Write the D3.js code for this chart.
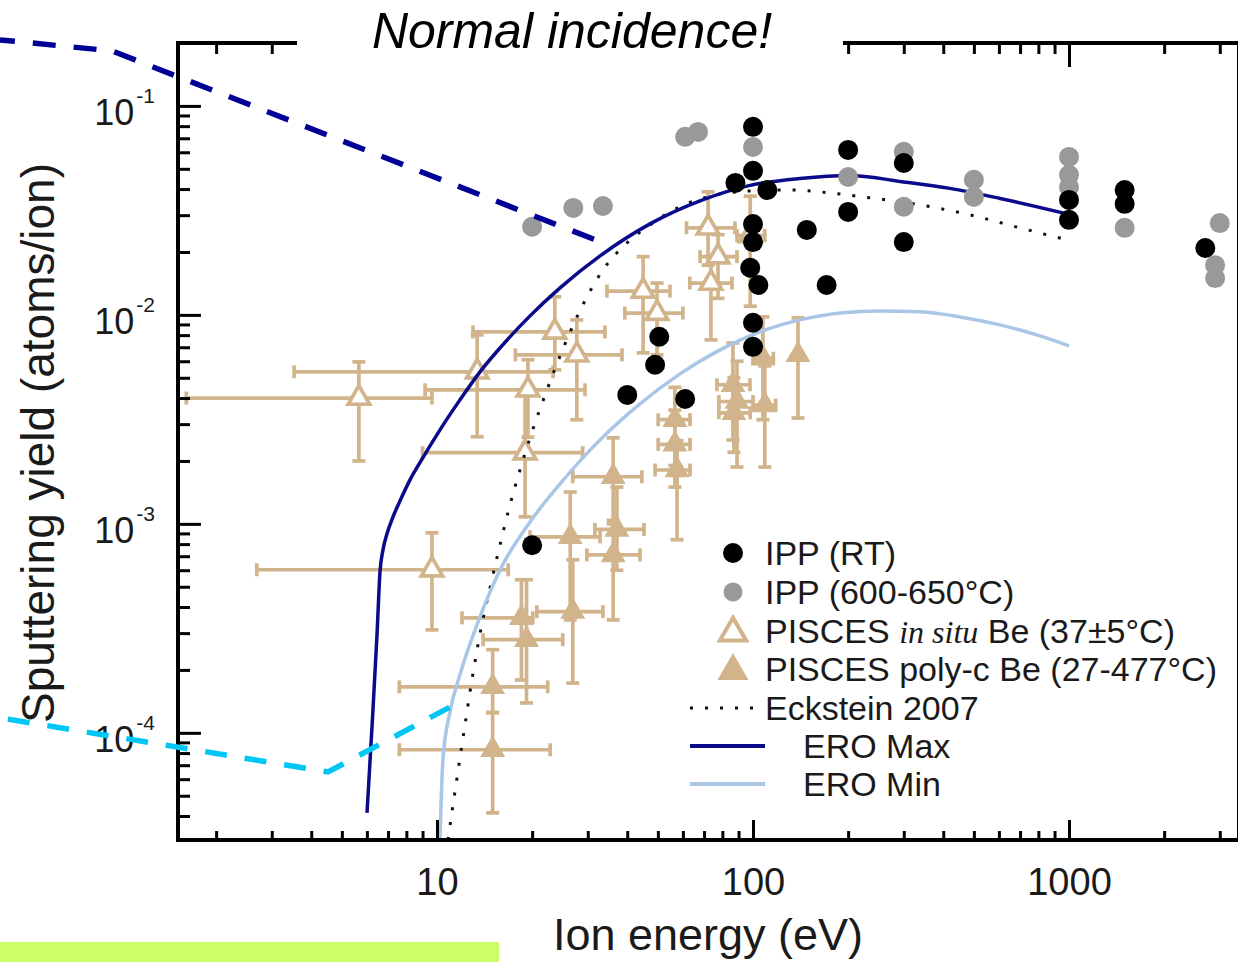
<!DOCTYPE html>
<html>
<head>
<meta charset="utf-8">
<title>Be sputtering yield vs ion energy</title>
<script src="https://cdn.jsdelivr.net/npm/d3@7/dist/d3.min.js"></script>
<style>
  html, body { margin: 0; padding: 0; background: #fff; }
  svg { display: block; }
  text { font-family: "Liberation Sans", Arial, Helvetica, sans-serif; }
</style>
</head>
<body>
<svg id="chart" width="1238" height="962"></svg>
<script>
// ---------------- data ----------------
const xMajorTicks = [10, 100, 1000];
const xTickLabels = ["10", "100", "1000"];
const yMajorTicks = [1e-1, 1e-2, 1e-3, 1e-4];
const yTickExponents = ["-1", "-2", "-3", "-4"];

// ERO simulation, upper bound
const eroMaxEnergy = [6.005, 6.228, 6.459, 6.601, 6.747, 6.946, 7.257, 7.637, 8.214, 8.899, 10.22, 11.82, 13.68, 15.83, 19.70, 24.51, 32.81, 47.21, 67.96, 97.84, 140.8, 202.7, 291.9, 420.2, 604.9, 1000];
const eroMaxYield  = [4.14e-5, 1.068e-4, 2.943e-4, 5.893e-4, 7.508e-4, 8.96e-4, 1.080e-3, 1.288e-3, 1.624e-3, 2.002e-3, 2.818e-3, 3.92e-3, 5.34e-3, 6.95e-3, 9.89e-3, 1.346e-2, 1.915e-2, 2.725e-2, 3.51e-2, 4.165e-2, 4.498e-2, 4.65e-2, 4.353e-2, 4.03e-2, 3.608e-2, 3.027e-2];

// ERO simulation, lower bound
const eroMinEnergy = [10.22, 10.44, 10.99, 11.82, 13.38, 15.83, 19.70, 24.51, 32.81, 43.89, 58.75, 78.63, 105.2, 140.8, 188.5, 252.2, 337.7, 451.9, 604.9, 809.5, 1000];
const eroMinYield  = [3.07e-5, 7.43e-5, 1.26e-4, 1.895e-4, 3.286e-4, 6.02e-4, 1.022e-3, 1.553e-3, 2.523e-3, 3.752e-3, 5.22e-3, 6.80e-3, 8.29e-3, 9.46e-3, 1.022e-2, 1.045e-2, 1.034e-2, 9.78e-3, 8.96e-3, 7.93e-3, 7.11e-3];

// Eckstein 2007 fit
const ecksteinEnergy = [10.834, 11.155, 11.485, 11.82, 12.263, 12.718, 13.19, 13.68, 14.717, 15.83, 17.022, 18.31, 19.70, 22.29, 27.74, 33.52, 39.94, 47.21, 54.62, 67.96, 97.84, 130.97, 162.9, 222.9, 337.7, 486.1, 699.7, 985.5];
const ecksteinYield  = [3.07e-5, 4.19e-5, 5.64e-5, 7.59e-5, 1.092e-4, 1.571e-4, 2.186e-4, 2.976e-4, 4.94e-4, 7.93e-4, 1.233e-3, 1.813e-3, 2.58e-3, 4.377e-3, 9.78e-3, 1.642e-2, 2.211e-2, 2.695e-2, 3.111e-2, 3.589e-2, 3.92e-2, 3.963e-2, 3.877e-2, 3.669e-2, 3.36e-2, 3.01e-2, 2.608e-2, 2.285e-2];

// IPP, room temperature
const ippRtEnergy = [20, 40, 49, 50.5, 61, 100, 100, 88, 111, 100, 100, 98, 104, 100, 100, 148, 171, 200, 200, 300, 300, 1000, 1000, 1500, 1500, 2700];
const ippRtYield  = [7.9e-4, 4.14e-3, 5.77e-3, 7.86e-3, 3.96e-3, 7.94e-2, 4.89e-2, 4.28e-2, 3.96e-2, 2.72e-2, 2.23e-2, 1.68e-2, 1.39e-2, 9.17e-3, 7.03e-3, 2.55e-2, 1.39e-2, 6.16e-2, 3.11e-2, 5.33e-2, 2.23e-2, 3.55e-2, 2.85e-2, 3.96e-2, 3.40e-2, 2.09e-2];

// IPP, 600-650 C
const ippHotEnergy = [20, 27, 33.5, 61, 67, 100, 200, 300, 300, 500, 500, 1000, 1000, 1000, 1500, 3000, 2900, 2900];
const ippHotYield  = [2.64e-2, 3.25e-2, 3.32e-2, 7.11e-2, 7.51e-2, 6.36e-2, 4.57e-2, 6.03e-2, 3.29e-2, 4.43e-2, 3.67e-2, 5.70e-2, 4.68e-2, 4.09e-2, 2.61e-2, 2.75e-2, 1.73e-2, 1.50e-2];

// PISCES rows: [energy, yield, energyLow, energyHigh, yieldLow, yieldHigh]
const piscesInSitu = [
  [5.66, 4.0e-3, 1.61, 9.64, 2.0e-3, 5.96e-3],
  [13.4, 5.34e-3, 3.53, 23.3, 2.61e-3, 8.02e-3],
  [19.4, 4.38e-3, 9.17, 29.4, 2.6e-3, 6.1e-3],
  [23.6, 8.29e-3, 13.0, 34.0, 5.46e-3, 1.22e-2],
  [27.7, 6.44e-3, 17.7, 38.5, 3.15e-3, 9.46e-3],
  [19.0, 2.19e-3, 9.0, 28.9, 1.08e-3, 4.14e-3],
  [9.64, 6.03e-4, 2.69, 16.8, 3.11e-4, 9.06e-4],
  [44.9, 1.30e-2, 34.5, 54.6, 6.58e-3, 1.90e-2],
  [49.7, 1.02e-2, 39.3, 60.0, 6.44e-3, 1.42e-2],
  [72.1, 2.61e-2, 61.6, 87.7, 1.73e-2, 3.88e-2],
  [77.5, 1.90e-2, 68.0, 89.0, 1.20e-2, 2.42e-2],
  [73.6, 1.42e-2, 63.1, 85.8, 7.59e-3, 1.90e-2],
  [98, 2.4e-2, 89, 109, 1.1e-2, 3.7e-2]
];
const piscesPolyC = [
  [15.0, 1.66e-4, 7.6, 22.4, 1.25e-4, 2.50e-4],
  [15.0, 8.3e-5, 7.6, 22.8, 4.14e-5, 1.25e-4],
  [18.5, 3.55e-4, 12.0, 20.1, 1.79e-4, 5.4e-4],
  [19.2, 2.79e-4, 14.0, 25.0, 1.39e-4, 5.4e-4],
  [26.4, 8.67e-4, 19.7, 32.8, 3.47e-4, 1.42e-3],
  [26.9, 3.8e-4, 20.7, 33.5, 1.73e-4, 6.73e-4],
  [37.1, 9.4e-4, 31.6, 45.2, 6.0e-4, 1.5e-3],
  [36.1, 1.68e-3, 26.9, 44.5, 1.04e-3, 2.58e-3],
  [36.1, 7.1e-4, 29.8, 43.9, 3.47e-4, 1.0e-3],
  [56.6, 3.15e-3, 50.1, 63.2, 1.9e-3, 4.5e-3],
  [56.6, 2.4e-3, 50.1, 63.2, 1.5e-3, 3.5e-3],
  [57.5, 1.81e-3, 49.0, 63.2, 8.4e-4, 2.5e-3],
  [86.4, 4.63e-3, 76.9, 97.8, 2.52e-3, 7.34e-3],
  [89.0, 3.85e-3, 78.0, 100, 1.87e-3, 6.0e-3],
  [87.0, 3.4e-3, 78.0, 98.0, 2.2e-3, 5.0e-3],
  [107.5, 6.2e-3, 100, 116, 3.15e-3, 9.78e-3],
  [109, 3.7e-3, 100, 118, 1.87e-3, 5.7e-3],
  [138.8, 6.44e-3, 138.8, 138.8, 3.21e-3, 9.67e-3]
];

// Annotation guide lines (energy, yield)
const guideDarkEnergy = [0.414, 0.937, 34.8];
const guideDarkYield  = [0.207, 0.1833, 0.02163];
const guideCyanEnergy = [0.414, 4.52, 11.16];
const guideCyanYield  = [1.18e-4, 6.5e-5, 1.345e-4];

const legendLabels = ["IPP (RT)", "IPP (600-650°C)", "PISCES in situ Be (37±5°C)", "PISCES poly-c Be (27-477°C)", "Eckstein 2007", "ERO Max", "ERO Min"];

// ---------------- drawing ----------------
const W = 1238, H = 962;
const box = { left: 178, right: 1239, top: 43, bottom: 840 };
const TAN = "#d2b48c", GRAY = "#999999", NAVY = "#0a0a8a", LIGHT = "#a9c6e6";
const FONT = '"Liberation Sans", Arial, Helvetica, sans-serif';

const svg = d3.select("#chart");
svg.append("rect").attr("width", W).attr("height", H).attr("fill", "#fff");

const x = d3.scaleLog().domain([1.515, 3451]).range([box.left, box.right]);
const y = d3.scaleLog().domain([3.07e-5, 0.2]).range([box.bottom, box.top]);

svg.append("defs").append("clipPath").attr("id", "plot-clip")
  .append("rect")
  .attr("x", box.left).attr("y", box.top)
  .attr("width", box.right - box.left).attr("height", box.bottom - box.top);

const plot = svg.append("g").attr("clip-path", "url(#plot-clip)");

// PISCES error bars and triangles
const CAP = 6.5;
function drawPisces(rows, filled) {
  const g = plot.append("g");
  const bars = g.append("g").attr("stroke", TAN).attr("stroke-width", 3.7).attr("fill", "none");
  rows.forEach(r => {
    const [e, v, eLo, eHi, vLo, vHi] = r;
    const cx = x(e), cy = y(v);
    if (eHi > eLo) {
      bars.append("line").attr("x1", x(eLo)).attr("x2", x(eHi)).attr("y1", cy).attr("y2", cy);
      bars.append("line").attr("x1", x(eLo)).attr("x2", x(eLo)).attr("y1", cy - CAP).attr("y2", cy + CAP);
      bars.append("line").attr("x1", x(eHi)).attr("x2", x(eHi)).attr("y1", cy - CAP).attr("y2", cy + CAP);
    }
    bars.append("line").attr("x1", cx).attr("x2", cx).attr("y1", y(vHi)).attr("y2", y(vLo));
    bars.append("line").attr("x1", cx - CAP).attr("x2", cx + CAP).attr("y1", y(vHi)).attr("y2", y(vHi));
    bars.append("line").attr("x1", cx - CAP).attr("x2", cx + CAP).attr("y1", y(vLo)).attr("y2", y(vLo));
  });
  g.selectAll("path.tri").data(rows).join("path")
    .attr("class", "tri")
    .attr("d", d3.symbol(d3.symbolTriangle, 200))
    .attr("transform", d => `translate(${x(d[0])},${y(d[1])})`)
    .attr("fill", filled ? TAN : "#fff")
    .attr("stroke", TAN)
    .attr("stroke-width", filled ? 2 : 3.7);
}
drawPisces(piscesInSitu, false);
drawPisces(piscesPolyC, true);

// Model curves
const curveLine = d3.line().x(d => x(d[0])).y(d => y(d[1])).curve(d3.curveMonotoneX);
const zipXY = (a, b) => a.map((v, i) => [v, b[i]]);

plot.append("path").attr("d", curveLine(zipXY(ecksteinEnergy, ecksteinYield)))
  .attr("fill", "none").attr("stroke", "#111").attr("stroke-width", 3)
  .attr("stroke-dasharray", "3 12");
plot.append("path").attr("d", curveLine(zipXY(eroMinEnergy, eroMinYield)))
  .attr("fill", "none").attr("stroke", LIGHT).attr("stroke-width", 3.5);
plot.append("path").attr("d", curveLine(zipXY(eroMaxEnergy, eroMaxYield)))
  .attr("fill", "none").attr("stroke", NAVY).attr("stroke-width", 3.5);

// IPP points
plot.append("g").selectAll("circle").data(zipXY(ippHotEnergy, ippHotYield)).join("circle")
  .attr("cx", d => x(d[0])).attr("cy", d => y(d[1])).attr("r", 10).attr("fill", GRAY);
plot.append("g").selectAll("circle").data(zipXY(ippRtEnergy, ippRtYield)).join("circle")
  .attr("cx", d => x(d[0])).attr("cy", d => y(d[1])).attr("r", 10).attr("fill", "#000");

// Axes
function logMinor(scale) {
  const [a, b] = scale.domain();
  const out = [];
  for (let p = Math.floor(Math.log10(a)); p <= Math.ceil(Math.log10(b)); p++) {
    for (let k = 2; k <= 9; k++) {
      const v = k * Math.pow(10, p);
      if (v >= a && v <= b) out.push(v);
    }
  }
  return out;
}
function styleAxis(g) {
  g.select(".domain").remove();
  g.selectAll(".tick line").attr("stroke", "#000").attr("stroke-width", 3);
}
const xMinor = logMinor(x), yMinor = logMinor(y);

// bottom
svg.append("g").attr("transform", `translate(0,${box.bottom})`)
  .call(d3.axisBottom(x).tickValues(xMinor).tickSize(-9).tickFormat(""))
  .call(styleAxis);
const xMajorAxis = svg.append("g").attr("transform", `translate(0,${box.bottom})`)
  .call(d3.axisBottom(x).tickValues(xMajorTicks).tickSize(-20).tickFormat((d, i) => xTickLabels[i]))
  .call(styleAxis);
xMajorAxis.selectAll(".tick text")
  .attr("y", 55).attr("dy", null)
  .attr("font-size", 38).attr("font-family", FONT).attr("fill", "#1a1a1a");

// top
svg.append("g").attr("transform", `translate(0,${box.top})`)
  .call(d3.axisTop(x).tickValues(xMinor).tickSize(-11).tickFormat(""))
  .call(styleAxis);
svg.append("g").attr("transform", `translate(0,${box.top})`)
  .call(d3.axisTop(x).tickValues(xMajorTicks).tickSize(-24).tickFormat(""))
  .call(styleAxis);

// left
svg.append("g").attr("transform", `translate(${box.left},0)`)
  .call(d3.axisLeft(y).tickValues(yMinor).tickSize(-12).tickFormat(""))
  .call(styleAxis);
const yMajorAxis = svg.append("g").attr("transform", `translate(${box.left},0)`)
  .call(d3.axisLeft(y).tickValues(yMajorTicks).tickSize(-23).tickFormat(""))
  .call(styleAxis);
yMajorAxis.selectAll(".tick text").each(function (d, i) {
  const t = d3.select(this)
    .text(null)
    .attr("x", -23).attr("y", 0).attr("dy", null)
    .attr("text-anchor", "end")
    .attr("font-family", FONT).attr("fill", "#1a1a1a");
  t.append("tspan").attr("dy", 19).attr("font-size", 36).text("10");
  t.append("tspan").attr("dy", -22).attr("dx", 2).attr("font-size", 21).text(yTickExponents[i]);
});

// frame
svg.append("rect")
  .attr("x", box.left).attr("y", box.top)
  .attr("width", box.right - box.left).attr("height", box.bottom - box.top)
  .attr("fill", "none").attr("stroke", "#000").attr("stroke-width", 4);

// axis titles
svg.append("text")
  .attr("x", 708).attr("y", 950)
  .attr("text-anchor", "middle").attr("font-size", 45).attr("fill", "#1a1a1a")
  .text("Ion energy (eV)");
svg.append("text")
  .attr("transform", "translate(54,443) rotate(-90)")
  .attr("text-anchor", "middle").attr("font-size", 46).attr("fill", "#1a1a1a")
  .text("Sputtering yield (atoms/ion)");

// legend
const legend = svg.append("g").attr("font-size", 34).attr("fill", "#1a1a1a");
const rowY = [553, 592, 631, 669, 708, 746, 784];
const markX = 733, textX = 765, lineTextX = 803;
legend.append("circle").attr("cx", markX).attr("cy", rowY[0]).attr("r", 10).attr("fill", "#000");
legend.append("circle").attr("cx", markX).attr("cy", rowY[1]).attr("r", 9.5).attr("fill", GRAY);
legend.append("path").attr("d", d3.symbol(d3.symbolTriangle, 300))
  .attr("transform", `translate(${markX},${rowY[2] + 2})`)
  .attr("fill", "#fff").attr("stroke", TAN).attr("stroke-width", 4);
legend.append("path").attr("d", d3.symbol(d3.symbolTriangle, 330))
  .attr("transform", `translate(${markX},${rowY[3] + 2})`)
  .attr("fill", TAN).attr("stroke", TAN).attr("stroke-width", 2);
legend.append("line").attr("x1", 690).attr("x2", 760).attr("y1", rowY[4]).attr("y2", rowY[4])
  .attr("stroke", "#111").attr("stroke-width", 3).attr("stroke-dasharray", "3 12");
legend.append("line").attr("x1", 690).attr("x2", 765).attr("y1", rowY[5]).attr("y2", rowY[5])
  .attr("stroke", NAVY).attr("stroke-width", 4);
legend.append("line").attr("x1", 690).attr("x2", 765).attr("y1", rowY[6]).attr("y2", rowY[6])
  .attr("stroke", LIGHT).attr("stroke-width", 4);

const lt = (i, tx) => legend.append("text").attr("x", tx).attr("y", rowY[i] + 12).style("white-space", "pre");
lt(0, textX).text(legendLabels[0]);
lt(1, textX).text(legendLabels[1]);
{
  const t = lt(2, textX);
  t.append("tspan").text("PISCES ");
  t.append("tspan").attr("font-family", '"Liberation Serif", "Times New Roman", serif')
    .attr("font-style", "italic").attr("font-size", 32).text("in situ");
  t.append("tspan").text(" Be (37±5°C)");
}
lt(3, textX).text(legendLabels[3]);
lt(4, textX).text(legendLabels[4]);
lt(5, lineTextX).text(legendLabels[5]);
lt(6, lineTextX).text(legendLabels[6]);

// title with its white backing
svg.append("rect").attr("x", 297).attr("y", 0).attr("width", 546).attr("height", 72).attr("fill", "#fff");
svg.append("text")
  .attr("x", 572).attr("y", 48)
  .attr("text-anchor", "middle").attr("font-size", 50).attr("font-style", "italic").attr("fill", "#000")
  .text("Normal incidence!");

// annotation guide lines
const guideLine = d3.line().x(d => x(d[0])).y(d => y(d[1]));
svg.append("path").attr("d", guideLine(zipXY(guideDarkEnergy, guideDarkYield)))
  .attr("fill", "none").attr("stroke", "#000096").attr("stroke-width", 5.5)
  .attr("stroke-dasharray", "23 18").attr("stroke-dashoffset", 8);
svg.append("path").attr("d", guideLine(zipXY(guideCyanEnergy, guideCyanYield)))
  .attr("fill", "none").attr("stroke", "#00c6f5").attr("stroke-width", 5.5)
  .attr("stroke-dasharray", "22 18").attr("stroke-dashoffset", 32);

// highlight strip
svg.append("rect").attr("x", 0).attr("y", 942).attr("width", 499).attr("height", 20).attr("fill", "#ccff66");
</script>
</body>
</html>
